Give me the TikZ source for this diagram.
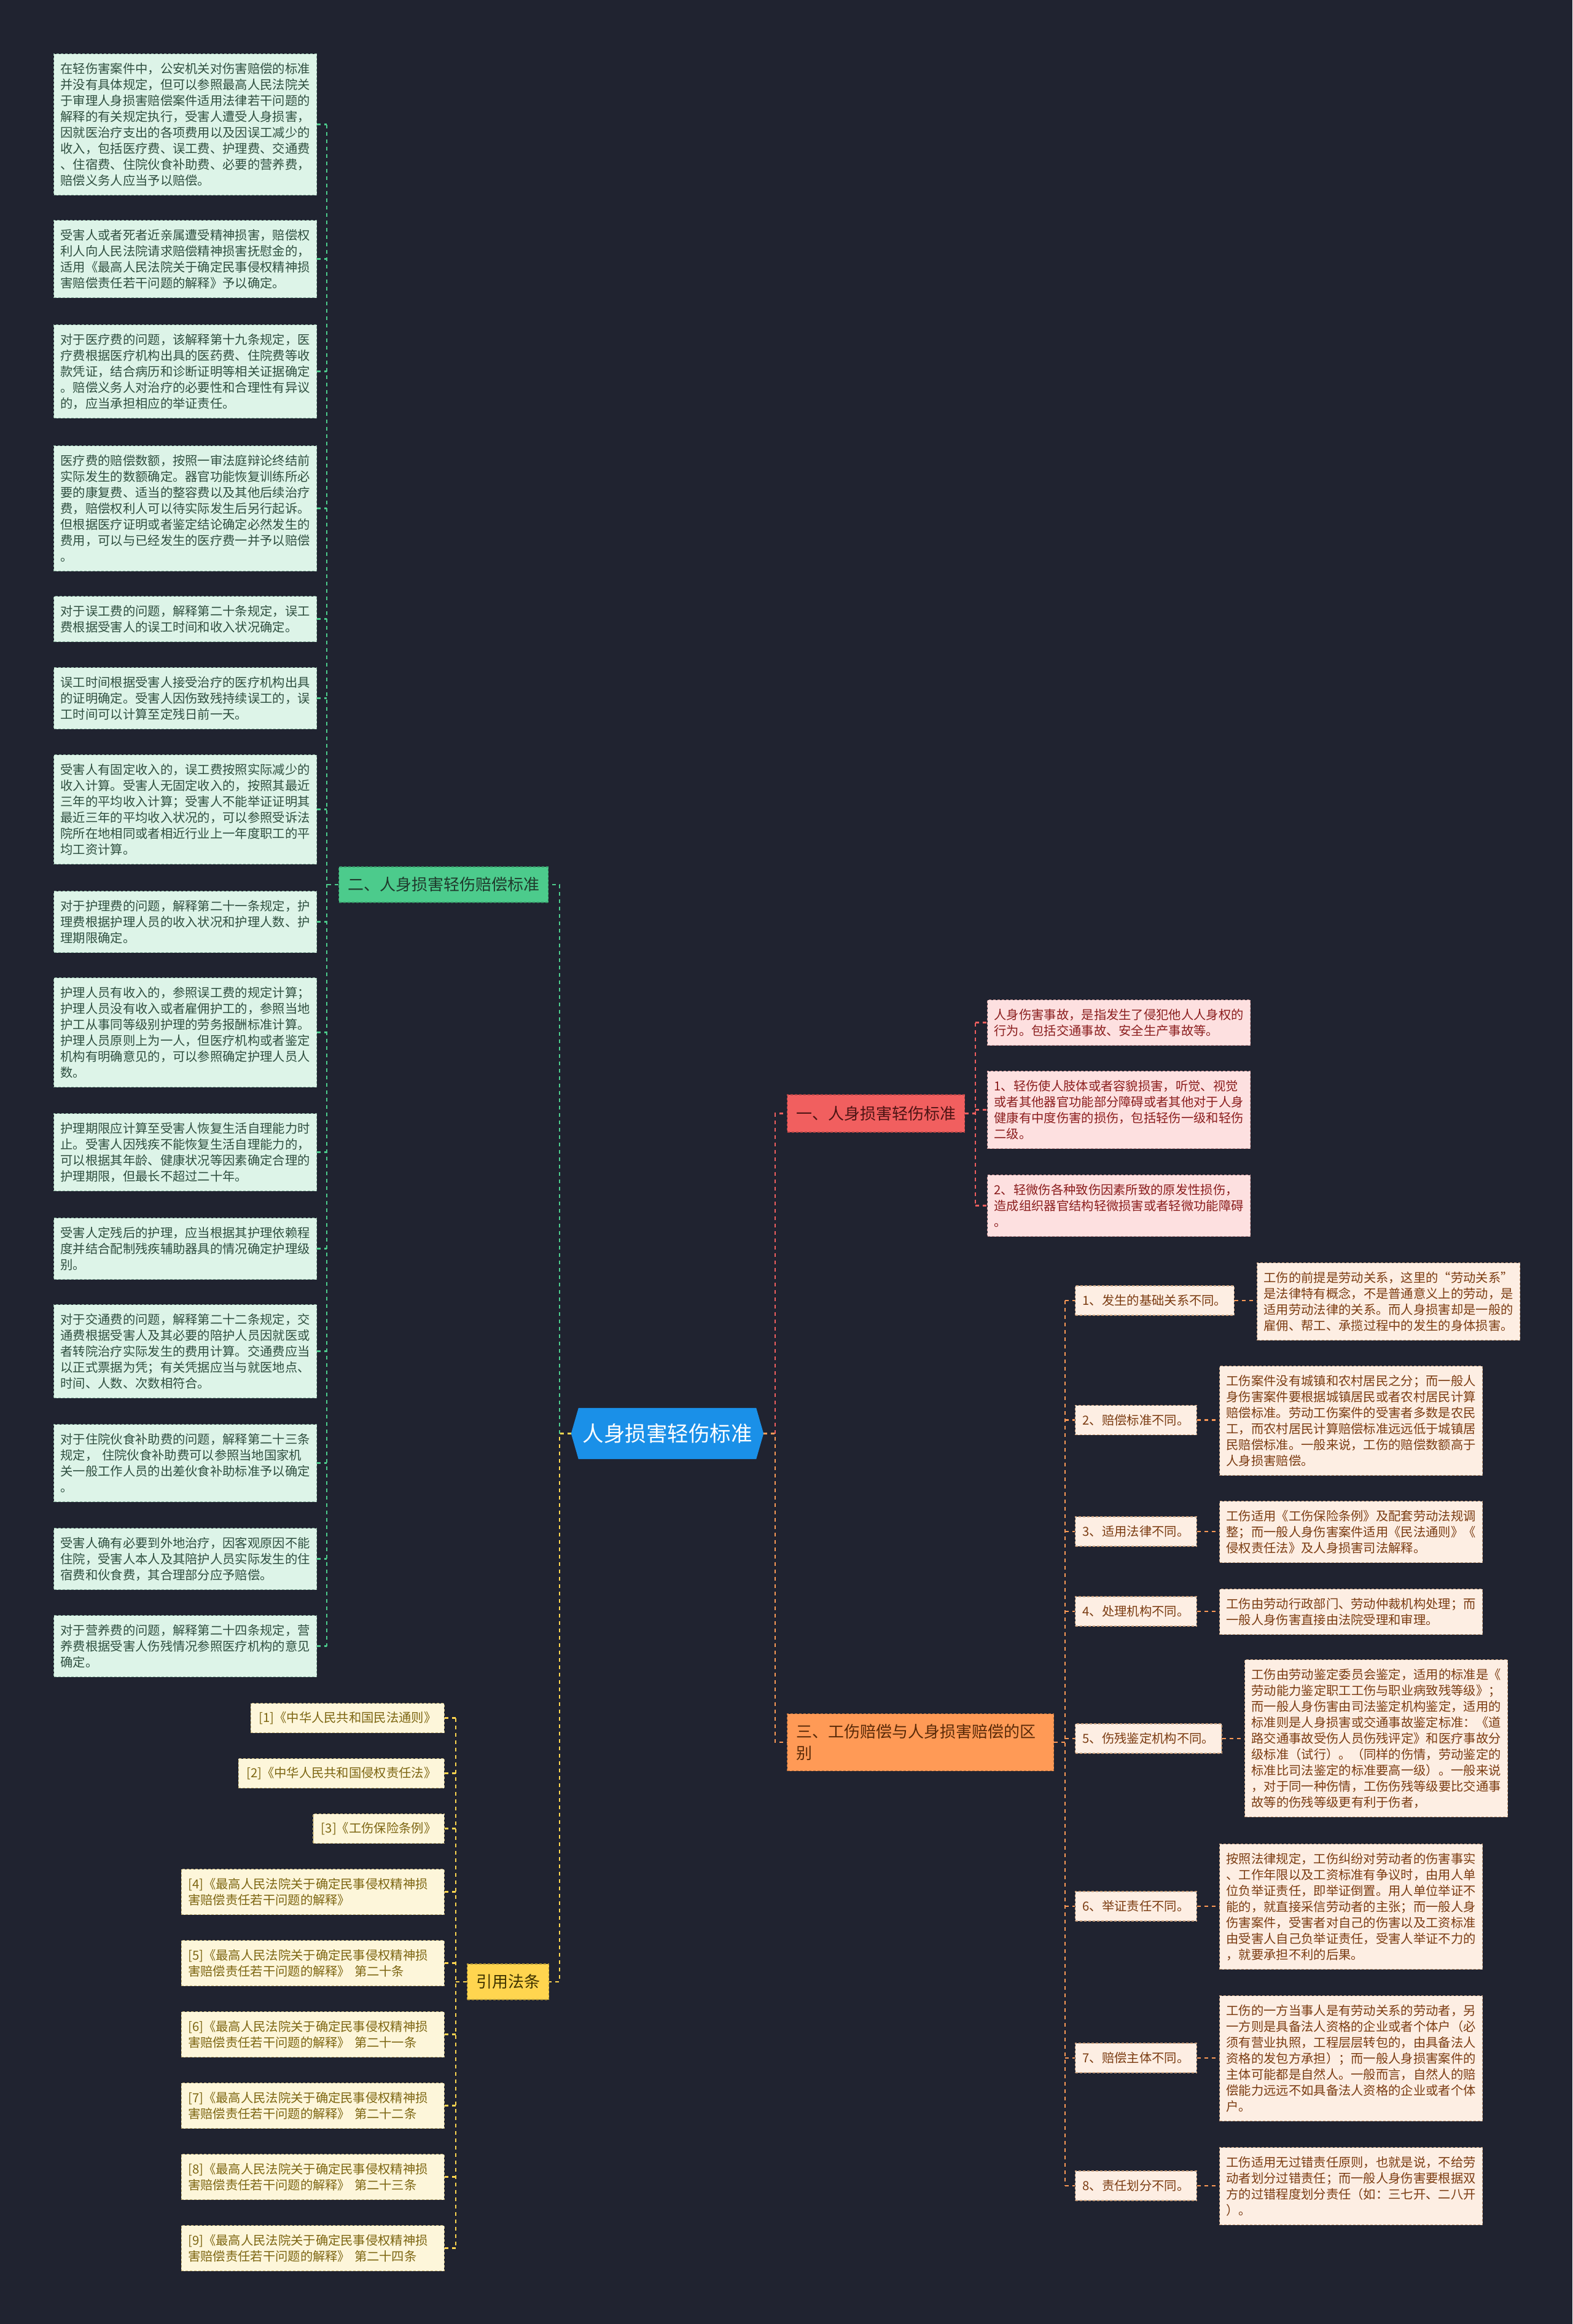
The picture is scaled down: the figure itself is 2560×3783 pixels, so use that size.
\documentclass[tikz,border=0pt]{standalone}
\usepackage{fontspec}
\setmainfont{Noto Sans CJK SC}
\usetikzlibrary{calc}
\definecolor{bgc}{HTML}{202330}
\definecolor{gfill}{HTML}{DDF4E8}
\definecolor{gborder}{HTML}{8DB5A2}
\definecolor{gtext}{HTML}{2F4F40}
\definecolor{gmain}{HTML}{4CCB8C}
\definecolor{gmaintext}{HTML}{1F3A2C}
\definecolor{rmain}{HTML}{F15F5F}
\definecolor{rmaintext}{HTML}{4D1414}
\definecolor{pfill}{HTML}{FDE0E0}
\definecolor{pborder}{HTML}{D9A0A0}
\definecolor{ptext}{HTML}{8B1E1E}
\definecolor{omain}{HTML}{FF9A56}
\definecolor{omaintext}{HTML}{5A2A08}
\definecolor{ofill}{HTML}{FDEEE3}
\definecolor{oborder}{HTML}{C9A07E}
\definecolor{otext}{HTML}{7B3C12}
\definecolor{ymain}{HTML}{FFD54F}
\definecolor{ymaintext}{HTML}{3F3300}
\definecolor{cfill}{HTML}{FDF6DA}
\definecolor{cborder}{HTML}{C7B57A}
\definecolor{ctext}{HTML}{7D6612}
\definecolor{rootblue}{HTML}{1A90E8}
\pgfdeclarelayer{back}
\pgfdeclarelayer{mid}
\pgfsetlayers{back,mid,main}
\tikzset{
  basebox/.style={rectangle, inner xsep=11pt, inner ysep=3pt, align=left,
    font=\fontsize{20.3}{26}\selectfont, draw, line width=1.3pt, dash pattern=on 4pt off 3pt},
  box/.style={basebox, text width=406pt},
  nlines/.style={minimum height={26*#1+22}},
  lbox/.style={box, fill=gfill, draw=gborder, text=gtext, anchor=north west},
  pbox/.style={box, fill=pfill, draw=pborder, text=ptext, anchor=north west},
  obox/.style={box, fill=ofill, draw=oborder, text=otext, anchor=north west},
  cbox/.style={box, fill=cfill, draw=cborder, text=ctext, anchor=north east},
  cshort/.style={basebox, inner xsep=13pt, fill=cfill, draw=cborder, text=ctext, anchor=north east, minimum height=48pt},
  olabel/.style={basebox, inner xsep=12pt, fill=ofill, draw=oborder, text=otext, anchor=west, minimum height=48pt},
  branch/.style={rectangle, inner xsep=14.5pt, inner ysep=3pt, align=left, anchor=west,
    font=\fontsize{26}{35}\selectfont, line width=1.3pt, dash pattern=on 4pt off 3pt},
  conn/.style={line width=2.5pt, dash pattern=on 6pt off 6pt},
  gline/.style={conn, draw=gmain},
  rline/.style={conn, draw=rmain},
  oline/.style={conn, draw=omain},
  yline/.style={conn, draw=ymain},
}
\begin{document}
\begin{tikzpicture}[x=1pt,y=-1pt]
\begin{pgfonlayer}{back}
\fill[bgc] (0,0) rectangle (2560,3783);
\end{pgfonlayer}
\useasboundingbox (0,0) rectangle (2560,3783);

% root
\node[rectangle, minimum width=313pt, minimum height=83pt, inner sep=0pt, text=white,
  font=\fontsize{34.5}{40}\selectfont] (root) at (1086.5,2333.5) {人身损害轻伤标准};
\begin{pgfonlayer}{mid}
\fill[rootblue] (root.west) -- ($(root.north west)+(12,0)$) -- ($(root.north east)+(-12,0)$)
  -- (root.east) -- ($(root.south east)+(-12,0)$) -- ($(root.south west)+(12,0)$) -- cycle;
\end{pgfonlayer}

% branches
\node[branch, fill=gmain, draw=gmain!70!black, text=gmaintext, minimum height=58pt] (g2) at (551,1440) {二、人身损害轻伤赔偿标准};
\node[branch, fill=rmain, draw=rmain!70!black, text=rmaintext, minimum height=61pt] (r1) at (1281,1812.5) {一、人身损害轻伤标准};
\node[branch, fill=omain, draw=omain!70!black, text=omaintext, minimum height=93pt, text width=405pt] (o3) at (1281,2836) {三、工伤赔偿与人身损害赔偿的区\\别};
\node[branch, fill=ymain, draw=ymain!70!black, text=ymaintext, minimum height=58pt] (ref) at (760,3226) {引用法条};

% left green boxes
\node[lbox, nlines=8] (L1) at (87,87) {在轻伤害案件中，公安机关对伤害赔偿的标准\\并没有具体规定，但可以参照最高人民法院关\\于审理人身损害赔偿案件适用法律若干问题的\\解释的有关规定执行，受害人遭受人身损害，\\因就医治疗支出的各项费用以及因误工减少的\\收入，包括医疗费、误工费、护理费、交通费\\、住宿费、住院伙食补助费、必要的营养费，\\赔偿义务人应当予以赔偿。};
\node[lbox, nlines=4] (L2) at (87,358) {受害人或者死者近亲属遭受精神损害，赔偿权\\利人向人民法院请求赔偿精神损害抚慰金的，\\适用《最高人民法院关于确定民事侵权精神损\\害赔偿责任若干问题的解释》予以确定。};
\node[lbox, nlines=5] (L3) at (87,528) {对于医疗费的问题，该解释第十九条规定，医\\疗费根据医疗机构出具的医药费、住院费等收\\款凭证，结合病历和诊断证明等相关证据确定\\。赔偿义务人对治疗的必要性和合理性有异议\\的，应当承担相应的举证责任。};
\node[lbox, nlines=7] (L4) at (87,725) {医疗费的赔偿数额，按照一审法庭辩论终结前\\实际发生的数额确定。器官功能恢复训练所必\\要的康复费、适当的整容费以及其他后续治疗\\费，赔偿权利人可以待实际发生后另行起诉。\\但根据医疗证明或者鉴定结论确定必然发生的\\费用，可以与已经发生的医疗费一并予以赔偿\\。};
\node[lbox, nlines=2] (L5) at (87,970) {对于误工费的问题，解释第二十条规定，误工\\费根据受害人的误工时间和收入状况确定。};
\node[lbox, nlines=3] (L6) at (87,1086) {误工时间根据受害人接受治疗的医疗机构出具\\的证明确定。受害人因伤致残持续误工的，误\\工时间可以计算至定残日前一天。};
\node[lbox, nlines=6] (L7) at (87,1228) {受害人有固定收入的，误工费按照实际减少的\\收入计算。受害人无固定收入的，按照其最近\\三年的平均收入计算；受害人不能举证证明其\\最近三年的平均收入状况的，可以参照受诉法\\院所在地相同或者相近行业上一年度职工的平\\均工资计算。};
\node[lbox, nlines=3] (L8) at (87,1450) {对于护理费的问题，解释第二十一条规定，护\\理费根据护理人员的收入状况和护理人数、护\\理期限确定。};
\node[lbox, nlines=6] (L9) at (87,1591) {护理人员有收入的，参照误工费的规定计算；\\护理人员没有收入或者雇佣护工的，参照当地\\护工从事同等级别护理的劳务报酬标准计算。\\护理人员原则上为一人，但医疗机构或者鉴定\\机构有明确意见的，可以参照确定护理人员人\\数。};
\node[lbox, nlines=4] (L10) at (87,1812) {护理期限应计算至受害人恢复生活自理能力时\\止。受害人因残疾不能恢复生活自理能力的，\\可以根据其年龄、健康状况等因素确定合理的\\护理期限，但最长不超过二十年。};
\node[lbox, nlines=3] (L11) at (87,1982) {受害人定残后的护理，应当根据其护理依赖程\\度并结合配制残疾辅助器具的情况确定护理级\\别。};
\node[lbox, nlines=5] (L12) at (87,2123) {对于交通费的问题，解释第二十二条规定，交\\通费根据受害人及其必要的陪护人员因就医或\\者转院治疗实际发生的费用计算。交通费应当\\以正式票据为凭；有关凭据应当与就医地点、\\时间、人数、次数相符合。};
\node[lbox, nlines=4] (L13) at (87,2318) {对于住院伙食补助费的问题，解释第二十三条\\规定， 住院伙食补助费可以参照当地国家机\\关一般工作人员的出差伙食补助标准予以确定\\。};
\node[lbox, nlines=3] (L14) at (87,2487) {受害人确有必要到外地治疗，因客观原因不能\\住院，受害人本人及其陪护人员实际发生的住\\宿费和伙食费，其合理部分应予赔偿。};
\node[lbox, nlines=3] (L15) at (87,2629) {对于营养费的问题，解释第二十四条规定，营\\养费根据受害人伤残情况参照医疗机构的意见\\确定。};

% pink boxes
\node[pbox, nlines=2] (p1) at (1607,1627) {人身伤害事故，是指发生了侵犯他人人身权的\\行为。包括交通事故、安全生产事故等。};
\node[pbox, nlines=4] (p2) at (1607,1743) {1、轻伤使人肢体或者容貌损害，听觉、视觉\\或者其他器官功能部分障碍或者其他对于人身\\健康有中度伤害的损伤，包括轻伤一级和轻伤\\二级。};
\node[pbox, nlines=3] (p3) at (1607,1912) {2、轻微伤各种致伤因素所致的原发性损伤，\\造成组织器官结构轻微损害或者轻微功能障碍\\。};

% orange labels
\node[olabel] (a1) at (1750,2117) {1、发生的基础关系不同。};
\node[olabel] (a2) at (1750,2311.5) {2、赔偿标准不同。};
\node[olabel] (a3) at (1750,2493) {3、适用法律不同。};
\node[olabel] (a4) at (1750,2623) {4、处理机构不同。};
\node[olabel] (a5) at (1750,2830) {5、伤残鉴定机构不同。};
\node[olabel] (a6) at (1750,3103) {6、举证责任不同。};
\node[olabel] (a7) at (1750,3350) {7、赔偿主体不同。};
\node[olabel] (a8) at (1750,3558) {8、责任划分不同。};

% orange detail boxes
\node[obox, nlines=4] (b1) at (2046,2055) {工伤的前提是劳动关系，这里的“劳动关系”\\是法律特有概念，不是普通意义上的劳动，是\\适用劳动法律的关系。而人身损害却是一般的\\雇佣、帮工、承揽过程中的发生的身体损害。};
\node[obox, nlines=6] (b2) at (1985,2223) {工伤案件没有城镇和农村居民之分；而一般人\\身伤害案件要根据城镇居民或者农村居民计算\\赔偿标准。劳动工伤案件的受害者多数是农民\\工，而农村居民计算赔偿标准远远低于城镇居\\民赔偿标准。一般来说，工伤的赔偿数额高于\\人身损害赔偿。};
\node[obox, nlines=3] (b3) at (1985,2443) {工伤适用《工伤保险条例》及配套劳动法规调\\整；而一般人身伤害案件适用《民法通则》《\\侵权责任法》及人身损害司法解释。};
\node[obox, nlines=2] (b4) at (1985,2586) {工伤由劳动行政部门、劳动仲裁机构处理；而\\一般人身伤害直接由法院受理和审理。};
\node[obox, nlines=9] (b5) at (2026,2701) {工伤由劳动鉴定委员会鉴定，适用的标准是《\\劳动能力鉴定职工工伤与职业病致残等级》；\\而一般人身伤害由司法鉴定机构鉴定，适用的\\标准则是人身损害或交通事故鉴定标准：《道\\路交通事故受伤人员伤残评定》和医疗事故分\\级标准（试行）。（同样的伤情，劳动鉴定的\\标准比司法鉴定的标准要高一级）。一般来说\\，对于同一种伤情，工伤伤残等级要比交通事\\故等的伤残等级更有利于伤者，};
\node[obox, nlines=7] (b6) at (1985,3001) {按照法律规定，工伤纠纷对劳动者的伤害事实\\、工作年限以及工资标准有争议时，由用人单\\位负举证责任，即举证倒置。用人单位举证不\\能的，就直接采信劳动者的主张；而一般人身\\伤害案件，受害者对自己的伤害以及工资标准\\由受害人自己负举证责任，受害人举证不力的\\，就要承担不利的后果。};
\node[obox, nlines=7] (b7) at (1985,3248) {工伤的一方当事人是有劳动关系的劳动者，另\\一方则是具备法人资格的企业或者个体户（必\\须有营业执照，工程层层转包的，由具备法人\\资格的发包方承担）；而一般人身损害案件的\\主体可能都是自然人。一般而言，自然人的赔\\偿能力远远不如具备法人资格的企业或者个体\\户。};
\node[obox, nlines=4] (b8) at (1985,3495) {工伤适用无过错责任原则，也就是说，不给劳\\动者划分过错责任；而一般人身伤害要根据双\\方的过错程度划分责任（如：三七开、二八开\\）。};

% citations
\node[cshort] (c1) at (724,2772) {[1]《中华人民共和国民法通则》};
\node[cshort] (c2) at (724,2862) {[2]《中华人民共和国侵权责任法》};
\node[cshort] (c3) at (724,2952) {[3]《工伤保险条例》};
\node[cbox, nlines=2] (c4) at (724,3042) {[4]《最高人民法院关于确定民事侵权精神损\\害赔偿责任若干问题的解释》};
\node[cbox, nlines=2] (c5) at (724,3158) {[5]《最高人民法院关于确定民事侵权精神损\\害赔偿责任若干问题的解释》 第二十条};
\node[cbox, nlines=2] (c6) at (724,3274) {[6]《最高人民法院关于确定民事侵权精神损\\害赔偿责任若干问题的解释》 第二十一条};
\node[cbox, nlines=2] (c7) at (724,3390) {[7]《最高人民法院关于确定民事侵权精神损\\害赔偿责任若干问题的解释》 第二十二条};
\node[cbox, nlines=2] (c8) at (724,3506) {[8]《最高人民法院关于确定民事侵权精神损\\害赔偿责任若干问题的解释》 第二十三条};
\node[cbox, nlines=2] (c9) at (724,3622) {[9]《最高人民法院关于确定民事侵权精神损\\害赔偿责任若干问题的解释》 第二十四条};

% junction coordinates
\coordinate (jL) at (911,0);
\coordinate (jR) at (1262,0);
\coordinate (gv) at (532,0);
\coordinate (pv) at (1588,0);
\coordinate (ov) at (1734,0);
\coordinate (cv) at (742,0);

% root connectors
\draw[gline] (root.west -| jL) -- (g2.east -| jL) -- (g2.east);
\draw[yline] (root.west) -- (root.west -| jL) -- (ref.east -| jL) -- (ref.east);
\draw[rline] (root.east -| jR) -- (r1.west -| jR) -- (r1.west);
\draw[oline] (root.east) -- (root.east -| jR) -- (o3.west -| jR) -- (o3.west);

% green group
\draw[gline] (g2.west) -- (g2.west -| gv);
\draw[gline] (L1.east -| gv) -- (L15.east -| gv);
\foreach \i in {1,...,15} { \draw[gline] (L\i.east) -- (L\i.east -| gv); }

% pink group
\draw[rline] (r1.east) -- (r1.east -| pv);
\draw[rline] (p1.west -| pv) -- (p3.west -| pv);
\foreach \i in {1,2,3} { \draw[rline] (p\i.west -| pv) -- (p\i.west); }

% orange group
\draw[oline] (o3.east) -- (o3.east -| ov);
\draw[oline] (a1.west -| ov) -- (a8.west -| ov);
\foreach \i in {1,...,8} {
  \draw[oline] (a\i.west -| ov) -- (a\i.west);
  \draw[oline] (a\i.east) -- (a\i.east -| b\i.west);
}

% citation group
\draw[yline] (ref.west) -- (ref.west -| cv);
\draw[yline] (c1.east -| cv) -- (c9.east -| cv);
\foreach \i in {1,...,9} { \draw[yline] (c\i.east) -- (c\i.east -| cv); }
\end{tikzpicture}
\end{document}
